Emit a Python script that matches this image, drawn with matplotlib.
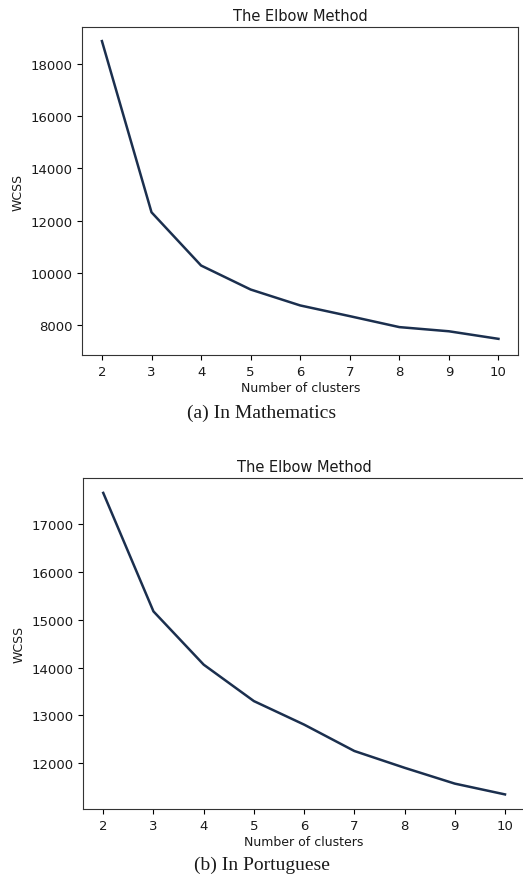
import matplotlib
matplotlib.use('Agg')
import matplotlib.pyplot as plt

# nombre de clusters
clusters = [2, 3, 4, 5, 6, 7, 8, 9, 10]

# WCSS
wcss_math = [18880, 12320, 10280, 9360, 8750, 8340, 7920, 7760, 7470]
wcss_port = [17640, 15170, 14060, 13300, 12810, 12260, 11910, 11580, 11355]

yticks_math = [8000, 10000, 12000, 14000, 16000, 18000]
yticks_port = [12000, 13000, 14000, 15000, 16000, 17000]

captions = ['(a) In Mathematics', '(b) In Portuguese']

line_color = '#1b2f4e'
txt_color = '#1a1a1a'

fig = plt.figure(figsize=(5.23, 8.78), dpi=100)

#graphique du haut
ax1 = fig.add_axes([0.157, 0.5945, 0.834, 0.3736])
ax1.plot(clusters, wcss_math, color=line_color, linewidth=1.8)
ax1.set_yticks(yticks_math)
ax1.set_xticks(clusters)
ax1.set_ylim(6850, 19420)
fig.text(0.5, 1 - 413 / 878, captions[0], ha='center', va='center',
         fontsize=14, family='Liberation Serif', color=txt_color)

#graphique du bas
ax2 = fig.add_axes([0.159, 0.0774, 0.845, 0.377])
ax2.plot(clusters, wcss_port, color=line_color, linewidth=1.8)
ax2.set_yticks(yticks_port)
ax2.set_xticks(clusters)
ax2.set_ylim(11050, 17950)
ax2.set_xlim(1.6, 10.4)
fig.text(0.5, 1 - 865 / 878, captions[1], ha='center', va='center',
         fontsize=14, family='Liberation Serif', color=txt_color)

#mise en forme commune
for ax in [ax1, ax2]:
    ax.set_title('The Elbow Method', fontsize=10.5, pad=5, color=txt_color)
    ax.set_xlabel('Number of clusters', fontsize=9, labelpad=2, color=txt_color)
    ax.set_ylabel('WCSS', fontsize=9, color=txt_color)
    ax.tick_params(labelsize=9.5, labelcolor=txt_color)
    for s in ax.spines.values():
        s.set_color('#333333')

fig.savefig('out.png', dpi=100)
